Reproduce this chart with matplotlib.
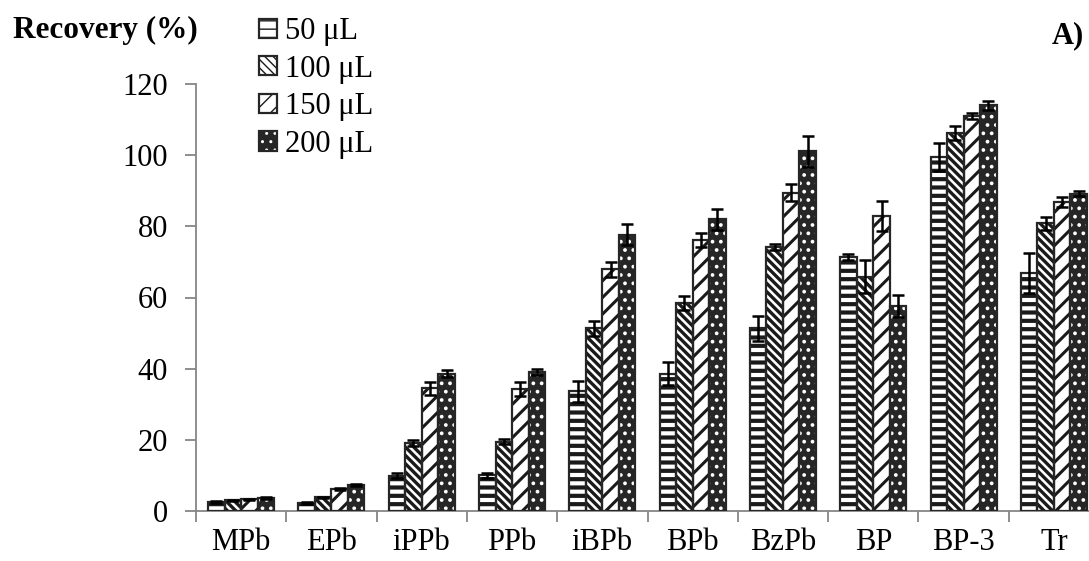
import numpy as np
import matplotlib.pyplot as plt
from matplotlib.legend_handler import HandlerTuple

plt.rcParams['font.family'] = ['Liberation Serif', 'DejaVu Serif']

# Data
compounds = ['MPb', 'EPb', 'iPPb', 'PPb', 'iBPb', 'BPb', 'BzPb', 'BP', 'BP-3', 'Tr']
volumes = ['50 μL', '100 μL', '150 μL', '200 μL']
rec_50 = [2.5, 2.3, 9.9, 10.0, 33.6, 38.6, 51.3, 71.4, 99.5, 66.9]
rec_100 = [3.0, 3.8, 19.1, 19.5, 51.3, 58.5, 74.2, 65.8, 106.3, 80.8]
rec_150 = [3.3, 6.3, 34.5, 34.2, 67.9, 76.1, 89.5, 82.9, 111.1, 86.8]
rec_200 = [3.6, 7.3, 38.6, 39.1, 77.7, 82.0, 101.1, 57.6, 114.0, 89.1]
err_50 = [0.2, 0.2, 0.7, 0.8, 3.0, 3.3, 3.4, 0.8, 4.0, 5.5]
err_100 = [0.2, 0.2, 0.8, 0.8, 2.0, 2.0, 0.8, 4.6, 2.0, 1.8]
err_150 = [0.2, 0.3, 1.8, 2.0, 2.1, 2.0, 2.3, 4.1, 0.8, 1.5]
err_200 = [0.3, 0.3, 0.9, 0.9, 3.0, 3.0, 4.3, 3.2, 1.2, 0.7]

series = [rec_50, rec_100, rec_150, rec_200]
errors = [err_50, err_100, err_150, err_200]
bslash = chr(92)
# face, hatch colour, hatch, hatch linewidth
styles = [('white', '#1a1a1a', '--', 3.0),
          ('white', '#1a1a1a', bslash * 4, 2.4),
          ('white', '#1a1a1a', '//', 2.2),
          ('#262626', 'white', '..', 1.5)]

fig = plt.figure(figsize=(10.89, 5.61), dpi=100)
ax = fig.add_axes([196 / 1089, 1 - 511 / 561, 903 / 1089, (511 - 84) / 561])

x = np.arange(len(compounds))
w = 0.183
handles = []
for i, (vals, errs) in enumerate(zip(series, errors)):
    face, hcol, hatch, hlw = styles[i]
    pos = x + (i - 1.5) * w
    with plt.rc_context({'hatch.linewidth': hlw}):
        fill = ax.bar(pos, vals, w, color=face, edgecolor=hcol, hatch=hatch,
                      linewidth=0, zorder=2)
        for p in fill:
            if hasattr(p, 'set_hatch_linewidth'):
                p.set_hatch_linewidth(hlw)
    edge = ax.bar(pos, vals, w, fill=False, edgecolor='#262626',
                  linewidth=1.6, zorder=3)
    ax.errorbar(pos, vals, yerr=errs, fmt='none', ecolor='black',
                elinewidth=1.8, capsize=4, capthick=1.8, zorder=4)
    handles.append((fill[0], edge[0]))

ax.set_xlim(-0.5, len(compounds) - 0.5)
ax.set_ylim(0, 120)
ax.set_yticks(range(0, 121, 20))

ax.set_xticks(np.arange(len(compounds) + 1) - 0.5)
ax.set_xticklabels([])
ax.set_xticks(x, minor=True)
ax.set_xticklabels(compounds, minor=True)
ax.tick_params(axis='x', which='minor', length=0, pad=12, labelsize=22)
ax.tick_params(axis='x', which='major', length=8, width=1.3, color='#868686')
ax.tick_params(axis='y', length=8, width=1.3, color='#868686', pad=12,
               labelsize=22)

for s in ['top', 'right']:
    ax.spines[s].set_visible(False)
for s in ['left', 'bottom']:
    ax.spines[s].set_color('#868686')
    ax.spines[s].set_linewidth(1.3)

fig.text(13 / 1089, 1 - 30 / 561, 'Recovery (%)', fontsize=22.5,
         fontweight='bold', va='center', ha='left')
fig.text(1084 / 1089, 1 - 36 / 561, 'A)', fontsize=22,
         fontweight='bold', va='center', ha='right')

fig.legend(handles, volumes, loc='upper left',
           bbox_to_anchor=(259 / 1089, 1 - 17 / 561),
           handler_map={tuple: HandlerTuple(ndivide=1, pad=0)},
           frameon=False, fontsize=22, handlelength=0.6, handleheight=0.6,
           handletextpad=0.25, labelspacing=0.28, borderpad=0,
           borderaxespad=0)

fig.savefig('out.png', dpi=100)
